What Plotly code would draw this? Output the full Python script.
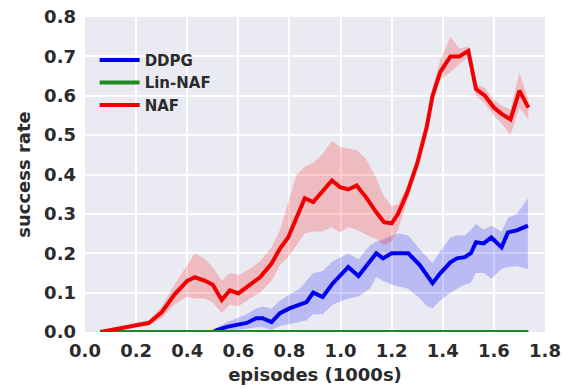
import plotly.graph_objects as go

# ---- data ----
naf_x = [0.06, 0.10, 0.15, 0.20, 0.25, 0.30, 0.35, 0.40, 0.43, 0.47, 0.50, 0.535, 0.567, 0.60, 0.645,
         0.685, 0.73, 0.763, 0.795, 0.828, 0.86, 0.893, 0.927, 0.966, 0.998, 1.03, 1.063, 1.10, 1.14,
         1.17, 1.20, 1.225, 1.26, 1.30, 1.337, 1.36, 1.39, 1.43, 1.465, 1.50, 1.53, 1.565, 1.60, 1.63,
         1.665, 1.70, 1.735]
naf_mean = [0.0, 0.005, 0.01, 0.018, 0.023, 0.05, 0.095, 0.13, 0.139, 0.13, 0.12, 0.081, 0.106, 0.098, 0.12,
            0.139, 0.174, 0.212, 0.24, 0.288, 0.34, 0.33, 0.355, 0.385, 0.368, 0.362, 0.372, 0.342, 0.304,
            0.279, 0.276, 0.30, 0.352, 0.428, 0.52, 0.60, 0.66, 0.70, 0.70, 0.714, 0.617, 0.60, 0.57, 0.554,
            0.54, 0.613, 0.57]
naf_upper = [0.0, 0.01, 0.015, 0.025, 0.03, 0.065, 0.12, 0.17, 0.20, 0.185, 0.165, 0.13, 0.15, 0.145, 0.16,
             0.18, 0.215, 0.26, 0.33, 0.40, 0.42, 0.43, 0.45, 0.485, 0.47, 0.466, 0.462, 0.44, 0.39,
             0.345, 0.32, 0.325, 0.37, 0.44, 0.535, 0.62, 0.69, 0.75, 0.72, 0.725, 0.63, 0.62, 0.59, 0.575,
             0.565, 0.66, 0.59]
naf_lower = [0.0, 0.0, 0.005, 0.012, 0.016, 0.035, 0.07, 0.09, 0.085, 0.085, 0.075, 0.048, 0.07, 0.065, 0.085,
             0.10, 0.13, 0.17, 0.19, 0.22, 0.25, 0.255, 0.255, 0.266, 0.253, 0.266, 0.26, 0.247, 0.236,
             0.22, 0.23, 0.26, 0.33, 0.41, 0.505, 0.58, 0.64, 0.66, 0.68, 0.70, 0.60, 0.58, 0.55, 0.53,
             0.50, 0.57, 0.54]

ddpg_x = [0.06, 0.50, 0.516, 0.555, 0.594, 0.633, 0.67, 0.695, 0.73, 0.763, 0.80, 0.84, 0.867, 0.893, 0.93,
          0.97, 1.03, 1.07, 1.115, 1.14, 1.166, 1.20, 1.23, 1.265, 1.31, 1.34, 1.36, 1.39, 1.43, 1.455,
          1.486, 1.51, 1.53, 1.56, 1.59, 1.63, 1.655, 1.69, 1.733]
ddpg_mean = [0.0, 0.0, 0.005, 0.013, 0.018, 0.023, 0.035, 0.035, 0.025, 0.048, 0.06, 0.068, 0.076, 0.10, 0.089,
             0.124, 0.165, 0.142, 0.177, 0.20, 0.187, 0.20, 0.20, 0.20, 0.17, 0.144, 0.124, 0.149, 0.177, 0.187,
             0.19, 0.20, 0.228, 0.225, 0.24, 0.215, 0.253, 0.258, 0.27]
ddpg_upper = [0.0, 0.0, 0.01, 0.025, 0.035, 0.045, 0.06, 0.065, 0.06, 0.08, 0.095, 0.11, 0.13, 0.15, 0.155,
              0.18, 0.20, 0.185, 0.22, 0.23, 0.235, 0.245, 0.25, 0.245, 0.21, 0.19, 0.175, 0.205, 0.24, 0.245,
              0.245, 0.26, 0.275, 0.26, 0.27, 0.255, 0.29, 0.30, 0.34]
ddpg_lower = [0.0, 0.0, 0.0, 0.003, 0.005, 0.008, 0.012, 0.012, 0.005, 0.015, 0.02, 0.025, 0.03, 0.045, 0.045,
              0.07, 0.085, 0.09, 0.11, 0.14, 0.13, 0.12, 0.115, 0.11, 0.085, 0.065, 0.06, 0.08, 0.10, 0.11,
              0.12, 0.125, 0.15, 0.15, 0.135, 0.16, 0.165, 0.167, 0.16]

linnaf_x = [0.06, 0.5, 1.0, 1.5, 1.735]
linnaf_mean = [0.0, 0.0, 0.0, 0.0, 0.0]

x_ticks = [0.0, 0.2, 0.4, 0.6, 0.8, 1.0, 1.2, 1.4, 1.6, 1.8]
y_ticks = [0.0, 0.1, 0.2, 0.3, 0.4, 0.5, 0.6, 0.7, 0.8]

FONT = "DejaVu Sans"
TXT = "#2b2b2b"

fig = go.Figure()


def band(x, lo, hi, fill):
    fig.add_trace(go.Scatter(x=x, y=hi, mode="lines", line=dict(width=0), showlegend=False,
                             hoverinfo="skip"))
    fig.add_trace(go.Scatter(x=x, y=lo, mode="lines", line=dict(width=0), fill="tonexty",
                             fillcolor=fill, showlegend=False, hoverinfo="skip"))


band(ddpg_x, ddpg_lower, ddpg_upper, "rgba(0,0,255,0.2)")
fig.add_trace(go.Scatter(x=ddpg_x, y=ddpg_mean, mode="lines", name="DDPG",
                         line=dict(color="#0000ee", width=4)))
fig.add_trace(go.Scatter(x=linnaf_x, y=linnaf_mean, mode="lines", name="Lin-NAF",
                         line=dict(color="#1f8a1f", width=4)))
band(naf_x, naf_lower, naf_upper, "rgba(255,0,0,0.2)")
fig.add_trace(go.Scatter(x=naf_x, y=naf_mean, mode="lines", name="NAF",
                         line=dict(color="#f00000", width=4)))

fig.update_layout(
    width=567, height=389,
    margin=dict(l=85, r=22, t=17, b=57),
    paper_bgcolor="white",
    plot_bgcolor="#EAEAF2",
    font=dict(family=FONT, size=18, color=TXT, weight="bold"),
    showlegend=True,
    legend=dict(x=0.021, y=0.915, xanchor="left", yanchor="top", traceorder="normal",
                itemwidth=40,
                bgcolor="rgba(0,0,0,0)", font=dict(family=FONT, size=15, color=TXT, weight="bold"),
                tracegroupgap=0),
)
fig.update_xaxes(range=[0, 1.8], tickvals=x_ticks, ticktext=[f"{v:.1f}" for v in x_ticks],
                 showgrid=True, gridcolor="white", gridwidth=1.5, zeroline=False, showline=False,
                 ticks="", ticklabelstandoff=6, automargin=False,
                 title=dict(text="episodes (1000s)", font=dict(family=FONT, size=18, color=TXT, weight="bold"),
                            standoff=8))
fig.update_yaxes(range=[0, 0.8], tickvals=y_ticks, ticktext=[f"{v:.1f}" for v in y_ticks],
                 showgrid=True, gridcolor="white", gridwidth=1.5, zeroline=False, showline=False,
                 ticks="", ticklabelstandoff=8, automargin=False,
                 title=dict(text="success rate", font=dict(family=FONT, size=18, color=TXT, weight="bold"),
                            standoff=8))

fig.write_html("out.html")
